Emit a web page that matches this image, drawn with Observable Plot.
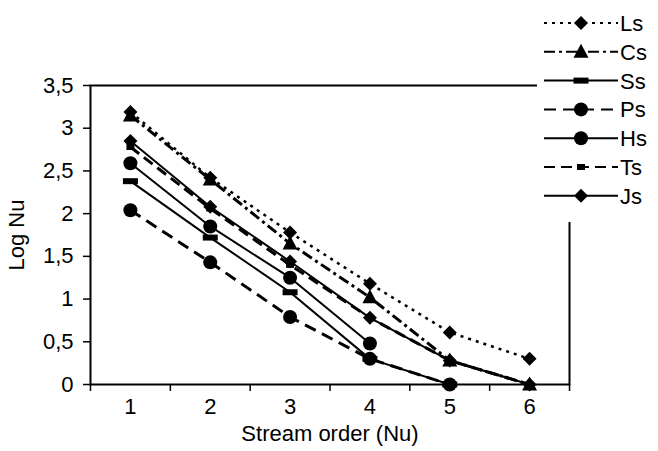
<!DOCTYPE html>
<html><head><meta charset="utf-8">
<script src="https://cdn.jsdelivr.net/npm/d3@7"></script>
<script src="https://cdn.jsdelivr.net/npm/@observablehq/plot@0.6"></script>
<style>
body{margin:0;background:#fff;}
#wrap{position:relative;width:658px;height:451px;overflow:hidden;}
#legend{position:absolute;left:537px;top:0;width:121px;height:222px;background:#fff;}
</style></head><body>
<div id="wrap"><div id="chart"></div><div id="legend"></div></div>
<script>
// ---- data ----
const orders = [1, 2, 3, 4, 5, 6];
const seriesNames = ["Ls", "Cs", "Ss", "Ps", "Hs", "Ts", "Js"];
const Ls = [3.19, 2.42, 1.78, 1.18, 0.61, 0.30];
const Cs = [3.15, 2.40, 1.65, 1.02, 0.28, 0];
const Ss = [2.38, 1.72, 1.08, 0.30, 0];
const Ps = [2.04, 1.43, 0.79, 0.30, 0];
const Hs = [2.59, 1.85, 1.25, 0.48];
const Ts = [2.78, 2.06, 1.40, 0.78, 0.28, 0];
const Js = [2.85, 2.08, 1.44, 0.78, 0.28, 0];
const yTicks = [0, 0.5, 1, 1.5, 2, 2.5, 3, 3.5];
const yTickLabels = ["0", "0,5", "1", "1,5", "2", "2,5", "3", "3,5"];
const xTickLabels = ["1", "2", "3", "4", "5", "6"];
const xBoundaries = [0.5, 1.5, 2.5, 3.5, 4.5, 5.5, 6.5];

// ---- symbols ----
const symDiamond = {draw(c){ const s = 7; c.moveTo(0,-s); c.lineTo(s,0); c.lineTo(0,s); c.lineTo(-s,0); c.closePath(); }};
const symTriangle = {draw(c){ c.moveTo(0,-8); c.lineTo(7.5,6); c.lineTo(-7.5,6); c.closePath(); }};
const symRect = {draw(c){ c.rect(-7.5,-3,15,6); }};
const symSmallSq = {draw(c){ c.rect(-4,-3,8,6); }};
const symCircle = {draw(c){ c.moveTo(7,0); c.arc(0,0,7,0,2*Math.PI); c.closePath(); }};

const styles = {
  Ls: {dash: "3,5", width: 2.5, lw: 2, sym: symDiamond},
  Cs: {dash: "11,4,3,4", width: 3, lw: 2, sym: symTriangle},
  Ss: {dash: null, width: 2, lw: 2, sym: symRect},
  Ps: {dash: "12,7", width: 3, lw: 2, sym: symCircle},
  Hs: {dash: null, width: 2, lw: 2, sym: symCircle},
  Ts: {dash: "11,6", width: 3, lw: 2, sym: symSmallSq},
  Js: {dash: null, width: 2, lw: 2, sym: symDiamond}
};
const values = {Ls, Cs, Ss, Ps, Hs, Ts, Js};

const marks = [];
for (const name of seriesNames) {
  const rows = values[name].map((v, i) => ({series: name, order: orders[i], value: v}));
  const st = styles[name];
  marks.push(Plot.line(rows, {x: "order", y: "value", stroke: "black", strokeWidth: st.width, strokeDasharray: st.dash || undefined, strokeLinecap: "butt"}));
  marks.push(Plot.dot(rows, {x: "order", y: "value", symbol: st.sym, r: 7, fill: "black", stroke: "none"}));
}

const FONT = "'Liberation Sans', Arial, sans-serif";
const chart = Plot.plot({
  width: 658,
  height: 451,
  marginLeft: 90,
  marginRight: 89,
  marginTop: 85,
  marginBottom: 67,
  style: {fontFamily: FONT, fontSize: "22px", color: "black", background: "white"},
  x: {domain: [0.5, 6.5]},
  y: {domain: [0, 3.5]},
  marks: [
    ...marks,
    Plot.frame({stroke: "black", strokeWidth: 2}),
    Plot.axisY({ticks: yTicks, tickSize: 7, tickPadding: 10, strokeWidth: 1.5, tickFormat: (d) => yTickLabels[yTicks.indexOf(d)], label: "Log Nu", labelAnchor: "center", labelArrow: "none", labelOffset: 82, fontSize: 22}),
    Plot.axisX({ticks: xBoundaries, tickSize: 7, strokeWidth: 1.5, tickFormat: () => "", label: null}),
    Plot.axisX({ticks: orders, tickSize: 0, tickPadding: 14, tickFormat: (d) => xTickLabels[d - 1], label: "Stream order (Nu)", labelAnchor: "center", labelArrow: "none", labelOffset: 56, fontSize: 22})
  ]
});
document.getElementById("chart").appendChild(chart);

// ---- legend ----
const lg = d3.select("#legend").append("svg").attr("width", 121).attr("height", 222);
seriesNames.forEach((name, i) => {
  const y = 23 + i * 28.8;
  const st = styles[name];
  const g = lg.append("g").attr("transform", `translate(0,${y})`);
  g.append("line").attr("x1", 7).attr("x2", 81).attr("y1", 0).attr("y2", 0)
    .attr("stroke", "black").attr("stroke-width", st.lw)
    .attr("stroke-dasharray", st.dash);
  g.append("path").attr("transform", "translate(44,0)").attr("d", d3.symbol(st.sym)()).attr("fill", "black");
  g.append("text").attr("x", 83).attr("y", 0).attr("dy", "0.36em")
    .attr("font-family", FONT).attr("font-size", 22).text(name);
});
</script>
</body></html>
